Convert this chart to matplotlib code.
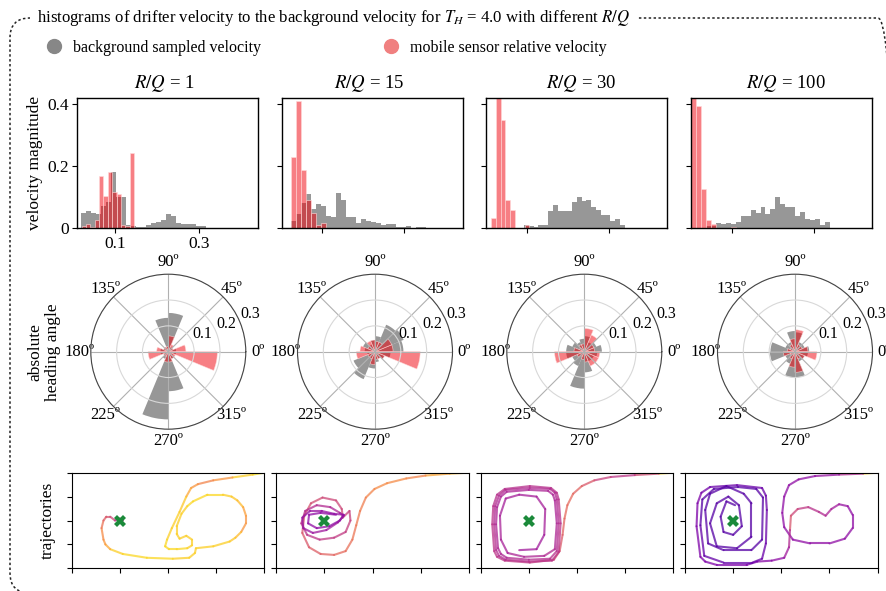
import matplotlib
matplotlib.use("Agg")
import matplotlib.pyplot as plt
import numpy as np
from matplotlib.collections import LineCollection
from matplotlib.lines import Line2D
from matplotlib.patches import FancyBboxPatch

plt.rcParams["font.family"] = ["Liberation Serif", "DejaVu Serif"]
plt.rcParams["mathtext.fontset"] = "stix"

ratios = ["1", "15", "30", "100"]

# velocity magnitude histograms (first bin edge, bin width, bar heights)
bg_start = [0.019, 0.0236, 0.0918, 0.0352]
bg_width = [0.0119, 0.0122, 0.0118, 0.0122]
bg_hist = [
    [0.05, 0.054, 0.05, 0.045, 0.07, 0.085, 0.18, 0.10, 0.099, 0.009, 0.005, 0.004,
     0.003, 0.009, 0.016, 0.021, 0.025, 0.045, 0.039, 0.017, 0.014, 0.012, 0.012,
     0.006, 0.006],
    [0.022, 0.044, 0.08, 0.109, 0.060, 0.077, 0.070, 0.038, 0.035, 0.112, 0.089,
     0.035, 0.035, 0.017, 0.028, 0.022, 0.019, 0.015, 0.009, 0.012, 0.012, 0.002,
     0.002, 0.005, 0.0, 0.002, 0.002],
    [0.01, 0.005, 0.003, 0.009, 0.009, 0.054, 0.073, 0.054, 0.054, 0.054, 0.083,
     0.099, 0.086, 0.089, 0.067, 0.057, 0.041, 0.041, 0.022, 0.028, 0.009],
    [0.005, 0.005, 0.015, 0.012, 0.015, 0.012, 0.018, 0.038, 0.038, 0.057, 0.047,
     0.067, 0.044, 0.06, 0.099, 0.077, 0.067, 0.067, 0.038, 0.051, 0.028, 0.025,
     0.028, 0.009, 0.018],
]
ms_start = [0.0205, 0.0236, 0.0107, -0.0016]
ms_width = [0.0104, 0.0122, 0.0118, 0.0123]
ms_hist = [
    [0.006, 0.012, 0.003, 0.025, 0.167, 0.102, 0.181, 0.115, 0.11, 0.009, 0.005, 0.243],
    [0.229, 0.41, 0.187, 0.089, 0.05, 0.009, 0.015],
    [0.032, 0.45, 0.348, 0.089, 0.057, 0.0, 0.0, 0.01],
    [0.45, 0.395, 0.127, 0.025, 0.014, 0.0, 0.0, 0.0, 0.002],
]
hist_xlim = [(0.0095, 0.4405), (0.0024, 0.444), (-0.0017, 0.4436), (-0.0016, 0.4437)]

# heading angle histograms, 16 bins of 22.5 deg starting at 0 deg
heading_edges = np.arange(0, 360, 22.5)
heading_ticks = [0, 45, 90, 135, 180, 225, 270, 315]
bg_heading = [
    [0.03, 0.02, 0.02, 0.15, 0.131, 0.02, 0.02, 0.03, 0.03, 0.02, 0.03, 0.262, 0.153, 0.03, 0.02, 0.03],
    [0.11, 0.12, 0.113, 0.06, 0.045, 0.03, 0.05, 0.04, 0.03, 0.09, 0.115, 0.065, 0.04, 0.03, 0.04, 0.06],
    [0.068, 0.05, 0.04, 0.06, 0.05, 0.04, 0.05, 0.07, 0.07, 0.05, 0.06, 0.143, 0.08, 0.04, 0.04, 0.05],
    [0.055, 0.04, 0.04, 0.075, 0.08, 0.04, 0.04, 0.095, 0.097, 0.04, 0.05, 0.1, 0.1, 0.04, 0.04, 0.05],
]
ms_heading = [
    [0.068, 0.02, 0.03, 0.061, 0.02, 0.02, 0.02, 0.045, 0.078, 0.02, 0.02, 0.04, 0.04, 0.03, 0.03, 0.19],
    [0.07, 0.07, 0.04, 0.04, 0.045, 0.045, 0.03, 0.058, 0.072, 0.03, 0.03, 0.05, 0.03, 0.03, 0.04, 0.175],
    [0.04, 0.04, 0.07, 0.09, 0.03, 0.03, 0.02, 0.04, 0.115, 0.03, 0.02, 0.03, 0.04, 0.06, 0.06, 0.06],
    [0.05, 0.03, 0.03, 0.085, 0.05, 0.03, 0.02, 0.03, 0.045, 0.02, 0.03, 0.06, 0.08, 0.03, 0.04, 0.085],
]

# drifter trajectories in the double gyre: (x, y, colour value)
traj_1 = [
    (2.00, 1.00, 0.95), (1.88, 0.98, 0.9), (1.67, 0.95, 0.75), (1.47, 0.92, 0.7),
    (1.31, 0.88, 0.75), (1.24, 0.84, 0.8), (1.19, 0.75, 0.88), (1.12, 0.59, 0.9),
    (1.04, 0.42, 0.9), (0.99, 0.30, 0.92), (0.97, 0.23, 0.92), (1.01, 0.20, 0.92),
    (1.09, 0.20, 0.92), (1.20, 0.21, 0.9), (1.25, 0.24, 0.9), (1.25, 0.30, 0.9),
    (1.19, 0.34, 0.9), (1.12, 0.31, 0.9), (1.09, 0.36, 0.9), (1.09, 0.44, 0.9),
    (1.14, 0.57, 0.9), (1.20, 0.65, 0.92), (1.26, 0.70, 0.92), (1.41, 0.77, 0.92),
    (1.57, 0.77, 0.9), (1.66, 0.75, 0.88), (1.72, 0.71, 0.85), (1.78, 0.64, 0.78),
    (1.81, 0.55, 0.75), (1.81, 0.47, 0.75), (1.76, 0.38, 0.85), (1.70, 0.32, 0.88),
    (1.64, 0.28, 0.9), (1.47, 0.23, 0.9), (1.29, 0.21, 0.9), (1.28, 0.16, 0.9),
    (1.22, 0.11, 0.9), (1.05, 0.10, 0.92), (0.78, 0.11, 0.92), (0.53, 0.15, 0.9),
    (0.40, 0.20, 0.8), (0.35, 0.25, 0.76), (0.33, 0.30, 0.72), (0.31, 0.42, 0.65),
    (0.33, 0.50, 0.58), (0.36, 0.54, 0.55), (0.40, 0.54, 0.5), (0.45, 0.50, 0.45),
    (0.50, 0.52, 0.5), (0.53, 0.50, 0.4), (0.48, 0.49, 0.35), (0.51, 0.50, 0.3),
]
traj_15 = [
    (2.00, 1.00, 0.85), (1.80, 0.99, 0.8), (1.55, 0.97, 0.7), (1.35, 0.94, 0.72),
    (1.15, 0.89, 0.72), (1.02, 0.83, 0.7), (0.93, 0.74, 0.68), (0.87, 0.60, 0.67),
    (0.83, 0.45, 0.66), (0.79, 0.30, 0.64), (0.72, 0.18, 0.62), (0.60, 0.14, 0.6),
    (0.46, 0.15, 0.58), (0.34, 0.22, 0.56), (0.27, 0.37, 0.55), (0.29, 0.55, 0.54),
    (0.36, 0.68, 0.52), (0.48, 0.74, 0.5), (0.62, 0.71, 0.5), (0.68, 0.62, 0.5),
    (0.69, 0.53, 0.48), (0.76, 0.60, 0.48), (0.77, 0.50, 0.47), (0.72, 0.38, 0.46),
    (0.60, 0.32, 0.45), (0.45, 0.30, 0.44), (0.32, 0.35, 0.43), (0.26, 0.47, 0.42),
    (0.30, 0.60, 0.41), (0.42, 0.66, 0.4), (0.56, 0.64, 0.38), (0.66, 0.58, 0.37),
    (0.70, 0.55, 0.36), (0.64, 0.48, 0.35), (0.52, 0.40, 0.34), (0.38, 0.37, 0.33),
    (0.28, 0.42, 0.33), (0.27, 0.53, 0.32), (0.35, 0.60, 0.32), (0.47, 0.60, 0.31),
    (0.60, 0.57, 0.31), (0.70, 0.56, 0.3), (0.66, 0.50, 0.3), (0.55, 0.44, 0.3),
    (0.42, 0.42, 0.3), (0.33, 0.47, 0.3), (0.34, 0.56, 0.3), (0.46, 0.58, 0.3),
    (0.62, 0.56, 0.3),
]
traj_30 = [
    (2.00, 1.00, 0.92), (1.85, 0.99, 0.52), (1.60, 0.975, 0.44), (1.35, 0.955, 0.48),
    (1.18, 0.92, 0.56), (1.05, 0.86, 0.6), (0.96, 0.78, 0.62), (0.90, 0.66, 0.62),
    (0.87, 0.52, 0.6), (0.85, 0.35, 0.57), (0.82, 0.18, 0.52),
    (0.76, 0.09, 0.47), (0.51, 0.06, 0.45), (0.25, 0.08, 0.44), (0.17, 0.12, 0.44),
    (0.14, 0.18, 0.43), (0.12, 0.46, 0.43), (0.13, 0.65, 0.42), (0.17, 0.77, 0.42),
    (0.25, 0.83, 0.42), (0.51, 0.86, 0.42), (0.73, 0.84, 0.42), (0.79, 0.79, 0.42),
    (0.81, 0.72, 0.42), (0.83, 0.47, 0.43), (0.81, 0.17, 0.44),
    (0.74, 0.08, 0.43), (0.50, 0.07, 0.42), (0.26, 0.09, 0.41), (0.19, 0.13, 0.41),
    (0.16, 0.19, 0.41), (0.14, 0.46, 0.4), (0.15, 0.65, 0.4), (0.19, 0.76, 0.4),
    (0.26, 0.82, 0.4), (0.51, 0.84, 0.4), (0.72, 0.83, 0.4), (0.77, 0.79, 0.4),
    (0.79, 0.72, 0.4), (0.81, 0.47, 0.41), (0.79, 0.18, 0.42),
    (0.72, 0.10, 0.41), (0.50, 0.09, 0.4), (0.27, 0.11, 0.39), (0.21, 0.15, 0.39),
    (0.18, 0.21, 0.39), (0.16, 0.46, 0.39), (0.17, 0.64, 0.38), (0.21, 0.75, 0.38),
    (0.27, 0.80, 0.38), (0.50, 0.82, 0.38), (0.70, 0.81, 0.38), (0.75, 0.77, 0.38),
    (0.77, 0.71, 0.38), (0.79, 0.47, 0.39), (0.77, 0.20, 0.4),
    (0.66, 0.13, 0.39), (0.45, 0.12, 0.38), (0.28, 0.16, 0.37), (0.21, 0.30, 0.37),
    (0.20, 0.55, 0.36), (0.26, 0.73, 0.36), (0.40, 0.77, 0.36), (0.58, 0.75, 0.36),
    (0.67, 0.62, 0.36), (0.66, 0.35, 0.35), (0.58, 0.20, 0.35), (0.40, 0.19, 0.35),
]
traj_100 = [
    (2.00, 1.00, 0.92), (1.85, 0.99, 0.4), (1.60, 0.98, 0.32), (1.35, 0.965, 0.3),
    (1.18, 0.93, 0.3), (1.08, 0.87, 0.3), (1.03, 0.75, 0.3), (1.01, 0.58, 0.3),
    (1.03, 0.43, 0.3), (1.12, 0.30, 0.3), (1.30, 0.26, 0.3), (1.50, 0.26, 0.3),
    (1.66, 0.31, 0.3), (1.74, 0.42, 0.3), (1.74, 0.56, 0.3), (1.69, 0.65, 0.32),
    (1.60, 0.67, 0.35), (1.52, 0.62, 0.38), (1.46, 0.55, 0.4), (1.39, 0.59, 0.42),
    (1.28, 0.64, 0.45), (1.17, 0.62, 0.5), (1.10, 0.55, 0.55), (1.09, 0.40, 0.4),
    (1.08, 0.22, 0.35), (1.03, 0.11, 0.3), (0.90, 0.08, 0.28), (0.75, 0.07, 0.25),
    (0.64, 0.035, 0.25), (0.33, 0.035, 0.25), (0.21, 0.07, 0.25), (0.16, 0.12, 0.25),
    (0.12, 0.44, 0.25), (0.13, 0.68, 0.25), (0.17, 0.79, 0.22), (0.26, 0.85, 0.2),
    (0.54, 0.87, 0.2), (0.80, 0.84, 0.2), (0.84, 0.76, 0.2), (0.85, 0.61, 0.2),
    (0.84, 0.26, 0.2), (0.80, 0.10, 0.2),
    (0.70, 0.06, 0.18), (0.40, 0.06, 0.18), (0.20, 0.13, 0.18), (0.16, 0.45, 0.15),
    (0.18, 0.72, 0.15), (0.30, 0.83, 0.15), (0.55, 0.85, 0.15), (0.74, 0.83, 0.15),
    (0.81, 0.74, 0.15), (0.80, 0.30, 0.15), (0.69, 0.19, 0.15), (0.40, 0.19, 0.15),
    (0.24, 0.26, 0.15), (0.21, 0.61, 0.15), (0.26, 0.78, 0.15), (0.43, 0.86, 0.15),
    (0.61, 0.78, 0.15), (0.69, 0.68, 0.15), (0.69, 0.33, 0.15), (0.54, 0.21, 0.15),
    (0.33, 0.23, 0.15), (0.26, 0.47, 0.15), (0.33, 0.68, 0.15), (0.45, 0.75, 0.15),
    (0.56, 0.66, 0.15), (0.59, 0.44, 0.15), (0.50, 0.35, 0.15), (0.40, 0.38, 0.15),
    (0.37, 0.54, 0.15), (0.43, 0.70, 0.15), (0.52, 0.66, 0.15),
]
trajectories = [traj_1, traj_15, traj_30, traj_100]
gyre_centre = (0.5, 0.5)

GRAY = (0.5, 0.5, 0.5, 0.82)
RED = (0.94, 0.0, 0.04, 0.5)
RED_EDGE = (1.0, 0.85, 0.85, 0.7)

W, H = 887, 591
fig = plt.figure(figsize=(W / 100, H / 100), dpi=100)

def box(left, top, width, height):
    return [left / W, 1 - (top + height) / H, width / W, height / H]

hist_left = [77, 282, 486, 691]
polar_cx = [168.3, 375, 584.3, 795]
traj_left = [71.7, 276.3, 480.7, 685]
title_x = [164, 369, 581, 786]

for i in range(4):
    # velocity magnitude
    ax = fig.add_axes(box(hist_left[i], 98, 181, 130))
    edges = bg_start[i] + bg_width[i] * np.arange(len(bg_hist[i]))
    ax.bar(edges, bg_hist[i], width=bg_width[i], align="edge", color=GRAY, linewidth=0)
    edges = ms_start[i] + ms_width[i] * np.arange(len(ms_hist[i]))
    ax.bar(edges, ms_hist[i], width=ms_width[i], align="edge", facecolor=RED,
           edgecolor=RED_EDGE, linewidth=0.6)
    ax.set_xlim(hist_xlim[i])
    ax.set_ylim(0, 0.42)
    ax.set_xticks([0.1, 0.3])
    ax.set_yticks([0, 0.2, 0.4])
    ax.tick_params(direction="out", length=3.5, width=0.8, labelsize=12.5, pad=2)
    if i == 0:
        ax.set_yticklabels(["0", "0.2", "0.4"])
        ax.set_xticklabels(["0.1", "0.3"])
    else:
        ax.set_yticklabels([])
        ax.set_xticklabels([])
    for s in ax.spines.values():
        s.set_linewidth(1.0)
    fig.text(title_x[i] / W, 1 - 84 / H, r"$R/Q$ = " + ratios[i], ha="center",
             va="center", fontsize=13.5)

    # heading angle
    pax = fig.add_axes(box(polar_cx[i] - 77.5, 351.7 - 77.5, 155, 155), projection="polar")
    theta = np.deg2rad(heading_edges + 11.25)
    wid = np.deg2rad(22.5)
    pax.bar(theta, bg_heading[i], width=wid, color=GRAY, linewidth=0)
    pax.bar(theta, ms_heading[i], width=wid, facecolor=RED, edgecolor=RED_EDGE, linewidth=0.5)
    pax.set_ylim(0, 0.3)
    pax.set_yticks([0.1, 0.2, 0.3])
    pax.set_yticklabels(["0.1", "0.2", "0.3"])
    pax.set_rlabel_position(22.5)
    pax.set_xticks(np.deg2rad(heading_ticks))
    pax.set_xticklabels([f"{d}\u00ba" for d in heading_ticks])
    pax.tick_params(axis="x", labelsize=12, pad=-2)
    pax.tick_params(axis="y", labelsize=11.5)
    pax.xaxis.grid(True, color="#b0b0b0", linewidth=0.8)
    pax.yaxis.grid(True, color="#d8d8d8", linewidth=0.8)
    pax.spines["polar"].set_color("#444444")
    pax.spines["polar"].set_linewidth(0.8)

    # trajectories
    tax = fig.add_axes(box(traj_left[i], 472.7, 192.6, 95.6))
    pts = np.array(trajectories[i])
    xy = pts[:, :2]
    segs = np.stack([xy[:-1], xy[1:]], axis=1)
    lc = LineCollection(segs, cmap="plasma", linewidths=1.5, alpha=0.75,
                        capstyle="round", joinstyle="round")
    lc.set_array(pts[:-1, 2])
    lc.set_clim(0, 1)
    tax.add_collection(lc)
    tax.plot(*gyre_centre, marker="X", color="#1b8a3a", markersize=8, markeredgewidth=0)
    tax.set_xlim(0, 2)
    tax.set_ylim(0, 1)
    tax.set_xticks([0, 0.5, 1, 1.5, 2])
    tax.set_yticks([0, 0.25, 0.5, 0.75, 1])
    tax.set_xticklabels([])
    tax.set_yticklabels([])
    tax.tick_params(direction="out", length=3.5, width=0.8)

# row labels
fig.text(35 / W, 1 - 163 / H, "velocity magnitude", rotation=90, ha="center",
         va="center", fontsize=12.5)
fig.text(44 / W, 1 - 352 / H, "absolute\nheading angle", rotation=90, ha="center",
         va="center", fontsize=12.5, linespacing=1.1)
fig.text(48 / W, 1 - 520 / H, "trajectories", rotation=90, ha="center",
         va="center", fontsize=12.5)

# title and legend
fig.text(37 / W, 1 - 18 / H,
         r"histograms of drifter velocity to the background velocity for $T_H$ = 4.0 with different $R/Q$",
         ha="left", va="center", fontsize=12.1, zorder=5,
         bbox=dict(facecolor="white", edgecolor="none", pad=5))
handles = [
    Line2D([], [], marker="o", linestyle="none", markersize=10, color=(0.53, 0.53, 0.53),
           label="background sampled velocity"),
    Line2D([], [], marker="o", linestyle="none", markersize=10, color=(0.94, 0.5, 0.5),
           label="mobile sensor relative velocity"),
]
fig.legend(handles=handles, loc="center left", bbox_to_anchor=(38 / W, 1 - 48 / H),
           ncol=2, frameon=False, fontsize=11.5, handletextpad=0.2, columnspacing=7.1,
           borderpad=0, borderaxespad=0)

# dotted frame
frame = FancyBboxPatch((0.10, -0.02), 8.88, 5.75, boxstyle="round,pad=0,rounding_size=0.2",
                       transform=fig.dpi_scale_trans, facecolor="none", edgecolor="#222222",
                       linewidth=1.1, linestyle=(0, (1.6, 1.6)), zorder=0)
fig.add_artist(frame)

fig.savefig("out.png", dpi=100)
